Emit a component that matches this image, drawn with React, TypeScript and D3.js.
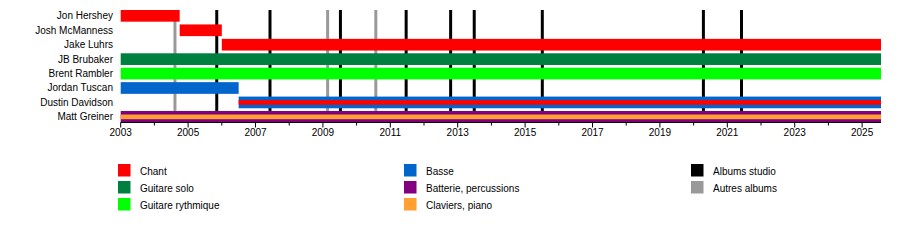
import React from "react";
import * as d3 from "d3";

const memberNames = [
  "Jon Hershey",
  "Josh McManness",
  "Jake Luhrs",
  "JB Brubaker",
  "Brent Rambler",
  "Jordan Tuscan",
  "Dustin Davidson",
  "Matt Greiner",
];
const memberStart = [2003.0, 2004.75, 2006.0, 2003.0, 2003.0, 2003.0, 2006.5, 2003.0];
const memberEnd = [2004.75, 2006.0, 2025.56, 2025.56, 2025.56, 2006.5, 2025.56, 2025.56];
const memberRole = [
  "Chant",
  "Chant",
  "Chant",
  "Guitare solo",
  "Guitare rythmique",
  "Basse",
  "Basse",
  "Batterie, percussions",
];
const memberSecondRole = [null, null, null, null, null, null, "Chant", "Claviers, piano"];

const studioAlbums = [2005.85, 2007.43, 2009.52, 2011.47, 2012.79, 2013.49, 2015.51, 2020.29, 2021.42];
const otherAlbums = [2004.61, 2009.14, 2010.57];

const tickYears = d3.range(2003, 2026, 1);
const labelYears = d3.range(2003, 2026, 2);

const legendLabels = [
  "Chant",
  "Guitare solo",
  "Guitare rythmique",
  "Basse",
  "Batterie, percussions",
  "Claviers, piano",
  "Albums studio",
  "Autres albums",
];
const legendColors = ["#ff0000", "#008040", "#00ff00", "#0066cc", "#800080", "#ffa030", "#000000", "#999999"];

const roleColor = d3.scaleOrdinal<string, string>().domain(legendLabels).range(legendColors);

const FONT = "'Liberation Sans', Arial, Helvetica, sans-serif";

export default function App() {
  const x = d3.scaleLinear().domain([2003, 2025.56]).range([120.7, 881]);
  const y = d3
    .scaleBand<string>()
    .domain(memberNames)
    .range([10, 122.7])
    .paddingInner(0.19)
    .paddingOuter(0);
  const bw = y.bandwidth();
  const axisY = 122.5;
  const lineTop = y(memberNames[0])!;
  const lineBottom = y(memberNames[memberNames.length - 1])!;

  const legendCols = [118, 404, 691];
  const legendRows = [164, 181, 198];

  return (
    <svg
      width={900}
      height={242}
      style={{ position: "absolute", left: 0, top: 0, background: "#fff" }}
      fontFamily={FONT}
    >
      {otherAlbums.map((a, i) => (
        <line key={"o" + i} x1={x(a)} x2={x(a)} y1={lineTop} y2={lineBottom} stroke="#999999" strokeWidth={3} />
      ))}
      {studioAlbums.map((a, i) => (
        <line key={"s" + i} x1={x(a)} x2={x(a)} y1={lineTop} y2={lineBottom} stroke="#000000" strokeWidth={3} />
      ))}

      {memberNames.map((name, i) => {
        const x0 = x(memberStart[i]);
        const x1 = x(memberEnd[i]);
        const top = y(name)!;
        const second = memberSecondRole[i];
        return (
          <g key={name}>
            <rect x={x0} y={top} width={x1 - x0} height={bw} fill={roleColor(memberRole[i])} />
            {second && (
              <rect x={x0} y={top + bw * 0.3} width={x1 - x0} height={bw * 0.4} fill={roleColor(second)} />
            )}
            <text x={113} y={top + bw / 2} dy="0.35em" textAnchor="end" fontSize={10} fill="#000">
              {name}
            </text>
          </g>
        );
      })}

      <line x1={x(2003)} x2={x(2025.56)} y1={axisY} y2={axisY} stroke="#000" strokeWidth={1} />
      {tickYears.map((t) => {
        const major = labelYears.includes(t);
        return (
          <line
            key={"t" + t}
            x1={x(t)}
            x2={x(t)}
            y1={axisY}
            y2={axisY + (major ? 5 : 3)}
            stroke="#000"
            strokeWidth={1}
          />
        );
      })}
      {labelYears.map((t) => (
        <text key={"l" + t} x={x(t)} y={132.5} dy="0.35em" textAnchor="middle" fontSize={10} fill="#000">
          {t}
        </text>
      ))}

      {legendLabels.map((lab, i) => {
        const col = Math.floor(i / 3);
        const row = i % 3;
        const lx = legendCols[col];
        const ly = legendRows[row];
        return (
          <g key={lab}>
            <rect x={lx} y={ly} width={12.5} height={12.5} fill={legendColors[i]} />
            <text x={lx + 22} y={ly + 7.8} dy="0.35em" fontSize={10} fill="#000">
              {lab}
            </text>
          </g>
        );
      })}
    </svg>
  );
}
